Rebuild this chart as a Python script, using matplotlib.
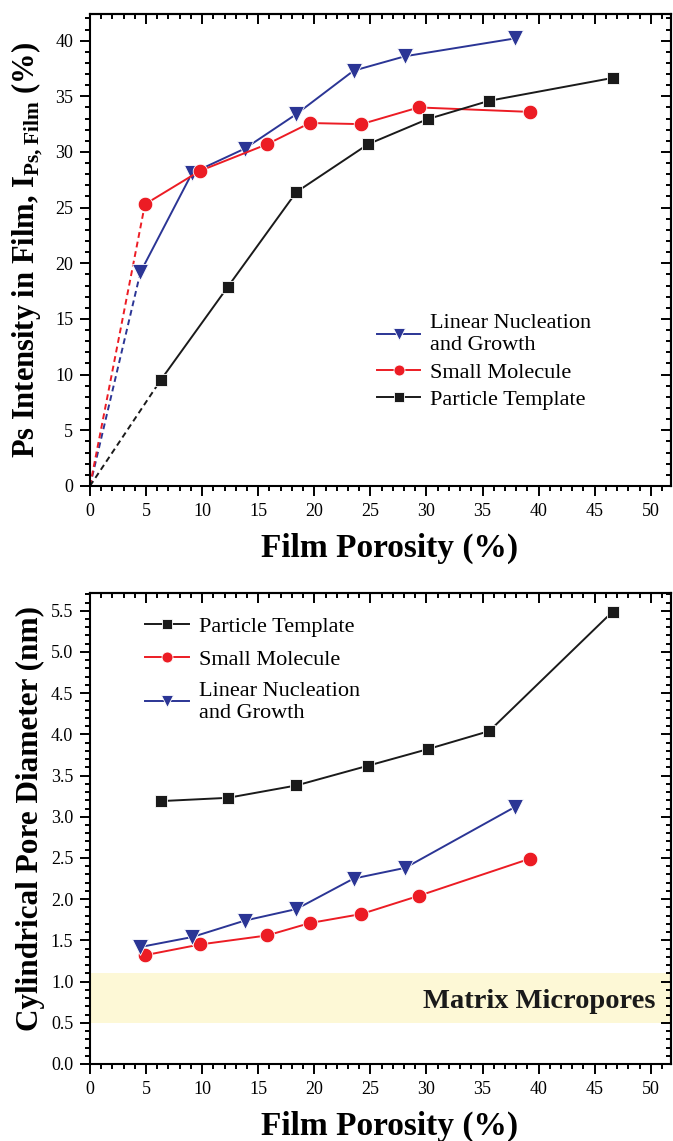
import matplotlib
matplotlib.use("Agg")
import matplotlib.pyplot as plt
from matplotlib.ticker import MultipleLocator

# porosity (%) of each film series, shared by both panels
lng_por = [4.5, 9.1, 13.8, 18.4, 23.5, 28.1, 37.9]
sm_por = [4.9, 9.8, 15.8, 19.6, 24.2, 29.3, 39.2]
pt_por = [6.3, 12.3, 18.4, 24.8, 30.1, 35.6, 46.6]

# Ps intensity in film (%)
lng_ips = [19.2, 28.1, 30.3, 33.4, 37.3, 38.6, 40.2]
sm_ips = [25.3, 28.3, 30.7, 32.6, 32.5, 34.0, 33.6]
pt_ips = [9.5, 17.9, 26.4, 30.7, 32.95, 34.6, 36.65]

# cylindrical pore diameter (nm)
lng_dia = [1.42, 1.54, 1.74, 1.88, 2.25, 2.38, 3.12]
sm_dia = [1.32, 1.45, 1.56, 1.71, 1.82, 2.04, 2.49]
pt_dia = [3.19, 3.23, 3.38, 3.62, 3.82, 4.04, 5.49]

micropore_band = (0.5, 1.1)

BLUE, RED, BLACK = "#2b3595", "#ec1c24", "#1a1a1a"
BAND = "#fdf8d6"

plt.rcParams.update({
    "font.family": "Liberation Serif",
    "mathtext.fontset": "custom",
    "mathtext.rm": "Liberation Serif",
    "mathtext.bf": "Liberation Serif:bold",
    "axes.linewidth": 1.5,
    "xtick.labelsize": 13, "ytick.labelsize": 13,
})

series = {
    "lng": dict(color=BLUE, marker="v", ms=11, label="Linear Nucleation\nand Growth"),
    "sm": dict(color=RED, marker="o", ms=10.5, label="Small Molecule"),
    "pt": dict(color=BLACK, marker="s", ms=9, label="Particle Template"),
}


def style_axes(ax, xmax, ymax, ymaj, ymin):
    ax.set_xlim(0, xmax)
    ax.set_ylim(0, ymax)
    ax.xaxis.set_major_locator(MultipleLocator(5))
    ax.xaxis.set_minor_locator(MultipleLocator(1))
    ax.yaxis.set_major_locator(MultipleLocator(ymaj))
    ax.yaxis.set_minor_locator(MultipleLocator(ymin))
    ax.tick_params(which="both", direction="out", top=False, right=False, width=1.4)
    ax.tick_params(which="major", length=7, pad=5)
    ax.tick_params(which="minor", length=3.5)
    # inward ticks on the top and right spines
    top = ax.secondary_xaxis("top")
    top.xaxis.set_major_locator(MultipleLocator(5))
    top.xaxis.set_minor_locator(MultipleLocator(1))
    top.tick_params(which="both", direction="in", labeltop=False, width=1.4)
    top.tick_params(which="major", length=7)
    top.tick_params(which="minor", length=3.5)
    right = ax.secondary_yaxis("right")
    right.yaxis.set_major_locator(MultipleLocator(ymaj))
    right.yaxis.set_minor_locator(MultipleLocator(ymin))
    right.tick_params(which="both", direction="in", labelright=False, width=1.4)
    right.tick_params(which="major", length=7)
    right.tick_params(which="minor", length=3.5)


def draw(ax, key, x, y):
    s = series[key]
    return ax.plot(x, y, color=s["color"], lw=1.4, marker=s["marker"], ms=s["ms"],
                   mec="white", mew=0.6, label=s["label"], zorder=3)[0]


def add_legend(ax, handles, anchor, spacing):
    leg = ax.legend(handles=handles, loc="upper left", bbox_to_anchor=anchor,
                    frameon=False, fontsize=16, markerscale=0.75, handlelength=1.95,
                    handletextpad=0.45, labelspacing=spacing, borderpad=0,
                    borderaxespad=0)
    for t in leg.get_texts():
        t.set_linespacing(1.2)
    return leg


fig = plt.figure(figsize=(6.73, 11.41), dpi=100)
ax1 = fig.add_axes([0.1337, 0.5741, 0.8633, 0.4137])
ax2 = fig.add_axes([0.1337, 0.0675, 0.8633, 0.4131])

# top panel: Ps intensity, dashed extrapolation to the origin
for key, x, y in [("lng", lng_por, lng_ips), ("sm", sm_por, sm_ips), ("pt", pt_por, pt_ips)]:
    ax1.plot([0, x[0]], [0, y[0]], color=series[key]["color"], lw=1.4,
             ls=(0, (3, 2)), zorder=2)
h_lng = draw(ax1, "lng", lng_por, lng_ips)
h_sm = draw(ax1, "sm", sm_por, sm_ips)
h_pt = draw(ax1, "pt", pt_por, pt_ips)
style_axes(ax1, 51.8, 42.4, 5, 1)
ax1.set_xlabel("Film Porosity (%)", fontsize=24, fontweight="bold")
ax1.set_ylabel(r"Ps Intensity in Film, I$_{\mathbf{Ps,Film}}$ (%)", fontsize=22,
               fontweight="bold")
ax1.xaxis.set_label_coords(0.515, -0.10)
ax1.yaxis.set_label_coords(-0.078, 0.5)
add_legend(ax1, [h_lng, h_sm, h_pt], (0.494, 0.364), 0.32)

# bottom panel: pore diameter with matrix micropore band
ax2.axhspan(*micropore_band, color=BAND, lw=0, zorder=0)
ax2.text(50.45, 0.76, "Matrix Micropores", ha="right", va="center", fontsize=20.5,
         fontweight="bold", color=BLACK)
b_pt = draw(ax2, "pt", pt_por, pt_dia)
b_sm = draw(ax2, "sm", sm_por, sm_dia)
b_lng = draw(ax2, "lng", lng_por, lng_dia)
style_axes(ax2, 51.8, 5.72, 0.5, 0.1)
ax2.yaxis.set_major_formatter(plt.FormatStrFormatter("%.1f"))
ax2.set_xlabel("Film Porosity (%)", fontsize=24, fontweight="bold")
ax2.set_ylabel("Cylindrical Pore Diameter (nm)", fontsize=22.5, fontweight="bold")
ax2.xaxis.set_label_coords(0.515, -0.10)
ax2.yaxis.set_label_coords(-0.078, 0.52)
add_legend(ax2, [b_pt, b_sm, b_lng], (0.095, 0.95), 0.55)

fig.savefig("out.png", dpi=100)
